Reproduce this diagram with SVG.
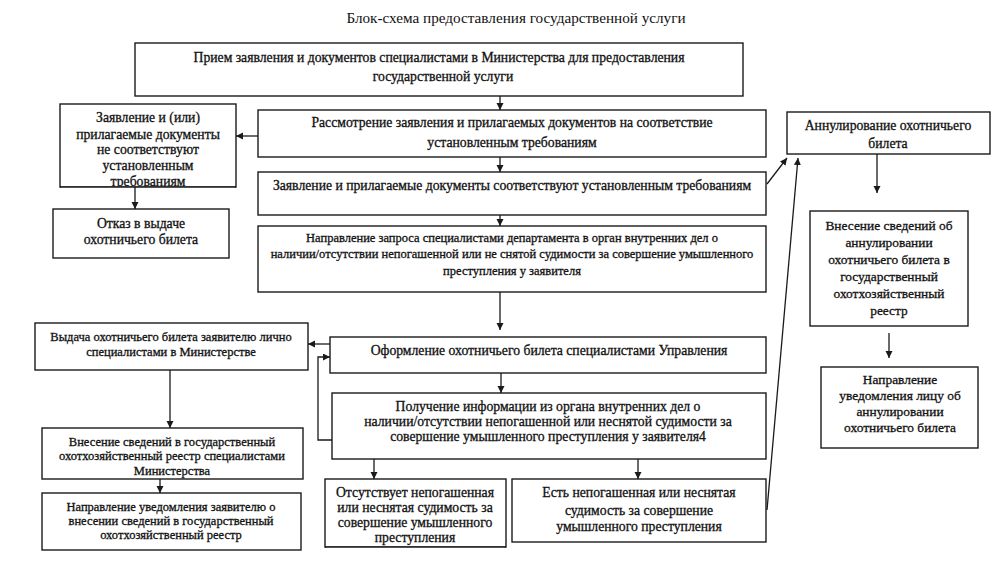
<svg xmlns="http://www.w3.org/2000/svg" width="993" height="567" viewBox="0 0 993 567">
<defs>
<style>
.b{fill:#fff;stroke:#1a1a1a;stroke-width:1.4}
.t{font-family:"Liberation Serif","Times New Roman",serif;fill:#111;text-anchor:middle;stroke:#111;stroke-width:0.3;font-size:13.7px}
.s{font-size:12.5px}
.c{fill:none;stroke:#1a1a1a;stroke-width:1.3}
</style>
<marker id="a" markerUnits="userSpaceOnUse" markerWidth="8" markerHeight="8" refX="7" refY="3.5" orient="auto"><path d="M0,0 L7,3.5 L0,7 z" fill="#1a1a1a"/></marker>
</defs>
<rect width="993" height="567" fill="#fff"/>
<text class="t" x="516" y="23" style="stroke-width:0;font-size:15.2px">Блок-схема предоставления  государственной услуги</text>

<g id="n1"><rect class="b" x="135" y="43" width="608" height="53"/>
<text class="t" x="439" y="62">Прием заявления и документов специалистами в Министерства для предоставления</text>
<text class="t" x="443" y="81">государственной услуги</text></g>

<g id="n2"><rect class="b" x="258" y="110" width="508" height="47"/>
<text class="t" x="512" y="127">Рассмотрение заявления и прилагаемых документов на соответствие</text>
<text class="t" x="512" y="147">установленным требованиям</text></g>

<g id="n3"><rect class="b" x="258" y="172" width="508" height="43"/>
<text class="t" x="512" y="190">Заявление и прилагаемые документы соответствуют установленным требованиям</text></g>

<g id="n4"><rect class="b" x="258" y="226" width="508" height="66"/>
<text class="t s" x="512" y="242">Направление запроса специалистами департамента в орган внутренних дел о</text>
<text class="t s" x="512" y="258">наличии/отсутствии непогашенной или не снятой судимости за совершение умышленного</text>
<text class="t s" x="512" y="275">преступления у заявителя</text></g>

<g id="n5"><rect class="b" x="60" y="104" width="176" height="83"/>
<text class="t" x="148" y="122">Заявление и (или)</text>
<text class="t" x="148" y="139">прилагаемые документы</text>
<text class="t" x="148" y="154">не соответствуют</text>
<text class="t" x="148" y="170">установленным</text>
<text class="t" x="148" y="186">требованиям</text>
<rect x="61" y="186.8" width="174" height="6" fill="#fff"/>
<line x1="60" y1="187" x2="236" y2="187" stroke="#1a1a1a" stroke-width="1.4"/></g>

<g id="n6"><rect class="b" x="53" y="209" width="176" height="49"/>
<text class="t" x="141" y="228">Отказ в выдаче</text>
<text class="t" x="141" y="244">охотничьего билета</text></g>

<g id="n7"><rect class="b" x="787" y="112" width="203" height="42"/>
<text class="t" x="888" y="130">Аннулирование охотничьего</text>
<text class="t" x="888" y="148">билета</text></g>

<g id="n8"><rect class="b" x="810" y="211" width="158" height="115"/>
<text class="t" style="font-size:13.4px" x="889" y="230">Внесение сведений об</text>
<text class="t" style="font-size:13.4px" x="889" y="247">аннулировании</text>
<text class="t" style="font-size:13.4px" x="889" y="264">охотничьего билета в</text>
<text class="t" style="font-size:13.4px" x="889" y="281">государственный</text>
<text class="t" style="font-size:13.4px" x="889" y="298">охотхозяйственный</text>
<text class="t" style="font-size:13.4px" x="889" y="315">реестр</text></g>

<g id="n9"><rect class="b" x="821" y="367" width="157" height="81"/>
<text class="t" style="font-size:13.4px" x="900" y="384">Направление</text>
<text class="t" style="font-size:13.4px" x="900" y="400">уведомления лицу об</text>
<text class="t" style="font-size:13.4px" x="900" y="416">аннулировании</text>
<text class="t" style="font-size:13.4px" x="900" y="432">охотничьего билета</text></g>

<g id="n10"><rect class="b" x="330" y="337" width="436" height="36"/>
<text class="t" x="549" y="355">Оформление охотничьего билета специалистами Управления</text></g>

<g id="n11"><rect class="b" x="35" y="323" width="273" height="47"/>
<text class="t s" x="171" y="341">Выдача охотничьего билета заявителю лично</text>
<text class="t s" x="171" y="356">специалистами в Министерстве</text></g>

<g id="n12"><rect class="b" x="42" y="428" width="261" height="51"/>
<text class="t s" x="172" y="446">Внесение сведений в государственный</text>
<text class="t s" x="172" y="460">охотхозяйственный реестр специалистами</text>
<text class="t s" x="172" y="475">Министерства</text></g>

<g id="n13"><rect class="b" x="42" y="493" width="259" height="57"/>
<text class="t s" x="171" y="511">Направление уведомления заявителю о</text>
<text class="t s" x="171" y="525">внесении сведений в государственный</text>
<text class="t s" x="171" y="539">охотхозяйственный реестр</text></g>

<g id="n14"><rect class="b" x="332" y="393" width="434" height="66"/>
<text class="t" x="548" y="411">Получение информации из органа внутренних дел о</text>
<text class="t" x="548" y="426">наличии/отсутствии непогашенной или неснятой судимости за</text>
<text class="t" x="548" y="441">совершение умышленного преступления у заявителя4</text></g>

<g id="n15"><rect class="b" x="325" y="479" width="181" height="68"/>
<text class="t" x="415" y="497">Отсутствует непогашенная</text>
<text class="t" x="415" y="512">или неснятая судимость за</text>
<text class="t" x="415" y="527">совершение умышленного</text>
<text class="t" x="415" y="542">преступления</text>
<rect x="326" y="546.8" width="179" height="6" fill="#fff"/>
<line x1="325" y1="547" x2="506" y2="547" stroke="#1a1a1a" stroke-width="1.4"/></g>

<g id="n16"><rect class="b" x="512" y="479" width="254" height="63"/>
<text class="t" x="639" y="497">Есть непогашенная или неснятая</text>
<text class="t" x="639" y="515">судимость за совершение</text>
<text class="t" x="639" y="531">умышленного преступления</text></g>

<g id="connectors">
<line class="c" x1="500" y1="96" x2="500" y2="110" marker-end="url(#a)"/>
<line class="c" x1="500" y1="157" x2="500" y2="172" marker-end="url(#a)"/>
<line class="c" x1="500" y1="215" x2="500" y2="226" marker-end="url(#a)"/>
<line class="c" x1="500" y1="292" x2="500" y2="330" marker-end="url(#a)"/>
<line class="c" x1="258" y1="136" x2="236" y2="136" marker-end="url(#a)"/>
<line class="c" x1="135" y1="187" x2="135" y2="209" marker-end="url(#a)"/>
<line class="c" x1="767" y1="184" x2="787" y2="158" marker-end="url(#a)"/>
<line class="c" x1="767" y1="510" x2="798" y2="158" marker-end="url(#a)"/>
<line class="c" x1="877" y1="154" x2="877" y2="193" marker-end="url(#a)"/>
<line class="c" x1="889" y1="333" x2="889" y2="358" marker-end="url(#a)"/>
<line class="c" x1="330" y1="344" x2="308" y2="344" marker-end="url(#a)"/>
<polyline class="c" points="332,440 318,440 318,357 330,357" marker-end="url(#a)"/>
<line class="c" x1="170" y1="370" x2="170" y2="428" marker-end="url(#a)"/>
<line class="c" x1="160" y1="479" x2="160" y2="493" marker-end="url(#a)"/>
<line class="c" x1="501" y1="373" x2="501" y2="393" marker-end="url(#a)"/>
<line class="c" x1="374" y1="459" x2="374" y2="479" marker-end="url(#a)"/>
<line class="c" x1="638" y1="459" x2="638" y2="479" marker-end="url(#a)"/>
</g>
</svg>
